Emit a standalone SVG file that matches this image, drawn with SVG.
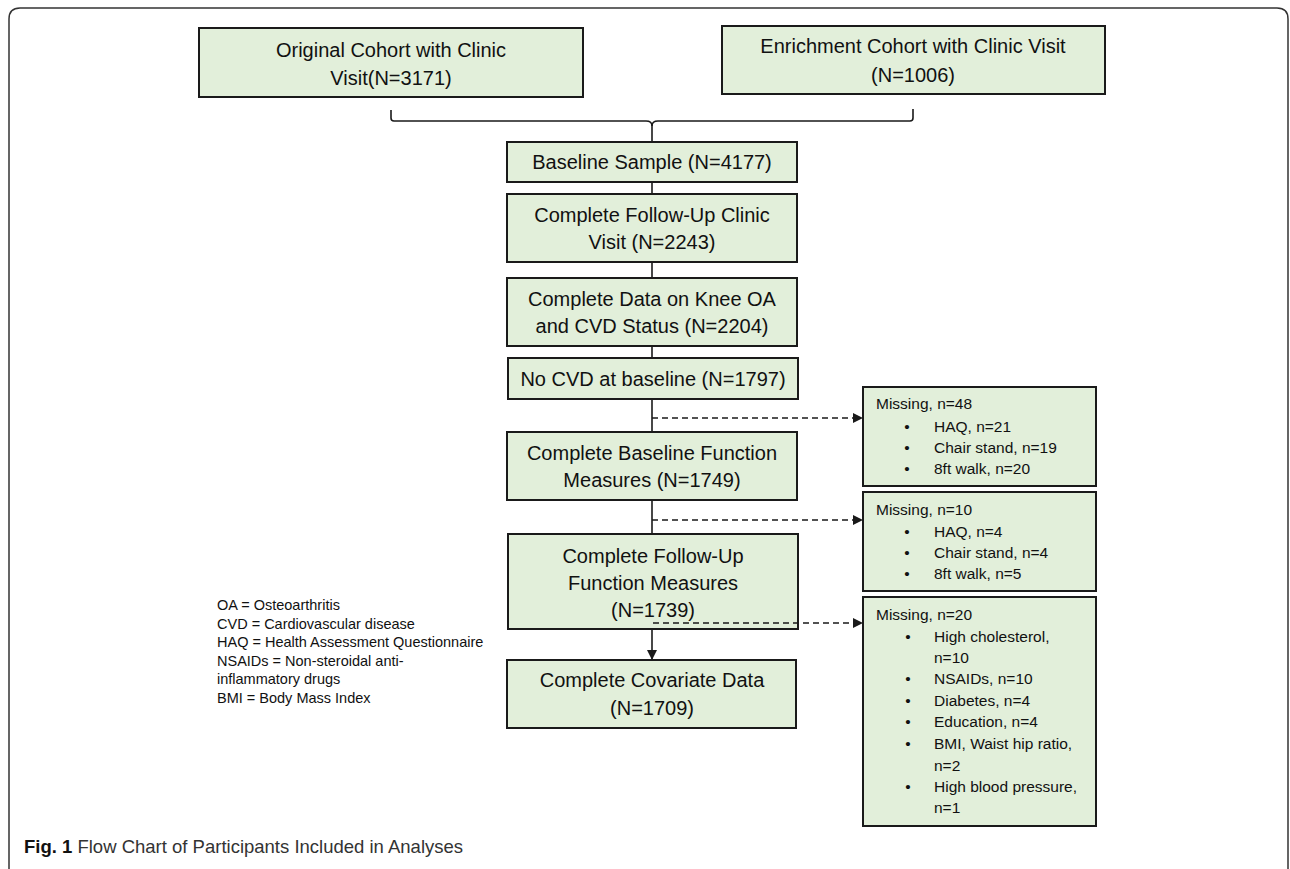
<svg xmlns="http://www.w3.org/2000/svg" width="1290" height="869" viewBox="0 0 1290 869">
<defs>
<style>
.box{fill:#e2efda;stroke:#1a1a1a;stroke-width:2}
.t{font-family:"Liberation Sans",Arial,sans-serif;font-size:20px;fill:#111;text-anchor:middle}
.s{font-family:"Liberation Sans",Arial,sans-serif;font-size:15.5px;fill:#111}
.lg{font-family:"Liberation Sans",Arial,sans-serif;font-size:14.5px;fill:#111}
.ln{fill:none;stroke:#1a1a1a;stroke-width:1.6}
.dl{fill:none;stroke:#1a1a1a;stroke-width:1.5;stroke-dasharray:6 4}
</style>
<marker id="ah" markerWidth="10" markerHeight="10" refX="9" refY="5" orient="auto" markerUnits="userSpaceOnUse">
<path d="M0,0 L10,5 L0,10 Z" fill="#1a1a1a"/>
</marker>
</defs>
<rect width="1290" height="869" fill="#fff"/>
<path d="M9,869 V19 Q9,8 20,8 H1277 Q1288,8 1288,19 V869" fill="none" stroke="#333" stroke-width="1.5"/>

<g id="n-original">
<rect class="box" x="199" y="28" width="384" height="69"/>
<text class="t" x="391" y="57">Original Cohort with Clinic</text>
<text class="t" x="391" y="85">Visit(N=3171)</text>
</g>
<g id="n-enrichment">
<rect class="box" x="722" y="26" width="383" height="68"/>
<text class="t" x="913" y="53">Enrichment Cohort with Clinic Visit</text>
<text class="t" x="913" y="82">(N=1006)</text>
</g>
<g id="n-baseline">
<rect class="box" x="507" y="142" width="290" height="40"/>
<text class="t" x="652" y="169">Baseline Sample (N=4177)</text>
</g>
<g id="n-followup-visit">
<rect class="box" x="507" y="194" width="290" height="68"/>
<text class="t" x="652" y="222">Complete Follow-Up Clinic</text>
<text class="t" x="652" y="249">Visit (N=2243)</text>
</g>
<g id="n-knee">
<rect class="box" x="507" y="278" width="290" height="68"/>
<text class="t" x="652" y="306">Complete Data on Knee OA</text>
<text class="t" x="652" y="333">and CVD Status (N=2204)</text>
</g>
<g id="n-nocvd">
<rect class="box" x="508" y="358" width="290" height="41"/>
<text class="t" x="653" y="386">No CVD at baseline (N=1797)</text>
</g>
<g id="n-baseline-function">
<rect class="box" x="507" y="432" width="290" height="68"/>
<text class="t" x="652" y="460">Complete Baseline Function</text>
<text class="t" x="652" y="487">Measures (N=1749)</text>
</g>
<g id="n-followup-function">
<rect class="box" x="508" y="534" width="290" height="95"/>
<text class="t" x="653" y="563">Complete Follow-Up</text>
<text class="t" x="653" y="590">Function Measures</text>
<text class="t" x="653" y="617">(N=1739)</text>
</g>
<g id="n-covariate">
<rect class="box" x="507" y="660" width="289" height="68"/>
<text class="t" x="652" y="687">Complete Covariate Data</text>
<text class="t" x="652" y="715">(N=1709)</text>
</g>

<g id="n-missing48">
<rect class="box" x="863" y="387" width="233" height="99"/>
<text class="s" x="876" y="409">Missing, n=48</text>
<text class="s" x="907" y="432" text-anchor="middle">•</text><text class="s" x="934" y="432">HAQ, n=21</text>
<text class="s" x="907" y="453" text-anchor="middle">•</text><text class="s" x="934" y="453">Chair stand, n=19</text>
<text class="s" x="907" y="474" text-anchor="middle">•</text><text class="s" x="934" y="474">8ft walk, n=20</text>
</g>
<g id="n-missing10">
<rect class="box" x="863" y="492" width="233" height="99"/>
<text class="s" x="876" y="515">Missing, n=10</text>
<text class="s" x="907" y="537" text-anchor="middle">•</text><text class="s" x="934" y="537">HAQ, n=4</text>
<text class="s" x="907" y="558" text-anchor="middle">•</text><text class="s" x="934" y="558">Chair stand, n=4</text>
<text class="s" x="907" y="579" text-anchor="middle">•</text><text class="s" x="934" y="579">8ft walk, n=5</text>
</g>
<g id="n-missing20">
<rect class="box" x="863" y="597" width="233" height="229"/>
<text class="s" x="876" y="620">Missing, n=20</text>
<text class="s" x="908" y="642" text-anchor="middle">•</text><text class="s" x="934" y="642">High cholesterol,</text>
<text class="s" x="934" y="663">n=10</text>
<text class="s" x="908" y="684" text-anchor="middle">•</text><text class="s" x="934" y="684">NSAIDs, n=10</text>
<text class="s" x="908" y="706" text-anchor="middle">•</text><text class="s" x="934" y="706">Diabetes, n=4</text>
<text class="s" x="908" y="727" text-anchor="middle">•</text><text class="s" x="934" y="727">Education, n=4</text>
<text class="s" x="908" y="749" text-anchor="middle">•</text><text class="s" x="934" y="749">BMI, Waist hip ratio,</text>
<text class="s" x="934" y="771">n=2</text>
<text class="s" x="908" y="792" text-anchor="middle">•</text><text class="s" x="934" y="792">High blood pressure,</text>
<text class="s" x="934" y="813">n=1</text>
</g>

<g id="connectors">
<path class="ln" d="M391,110 V118 Q391,121 394,121 H646 Q652,121 652,126 Q652,121 658,121 H910 Q913,121 913,118 V109"/>
<path class="ln" d="M652,124 V141"/>
<path class="ln" d="M652,183 V193"/>
<path class="ln" d="M652,263 V277"/>
<path class="ln" d="M652,347 V357"/>
<path class="ln" d="M652,400 V431"/>
<path class="ln" d="M652,501 V533"/>
<path class="ln" d="M652,630 V659" marker-end="url(#ah)"/>
<path class="dl" d="M652,418 H862" marker-end="url(#ah)"/>
<path class="dl" d="M652,520 H862" marker-end="url(#ah)"/>
<path class="dl" d="M653,623 H862" marker-end="url(#ah)"/>
</g>

<g id="legend">
<text class="lg" x="217" y="610">OA = Osteoarthritis</text>
<text class="lg" x="217" y="629">CVD = Cardiovascular disease</text>
<text class="lg" x="217" y="647">HAQ = Health Assessment Questionnaire</text>
<text class="lg" x="217" y="666">NSAIDs = Non-steroidal anti-</text>
<text class="lg" x="217" y="684">inflammatory drugs</text>
<text class="lg" x="217" y="703">BMI = Body Mass Index</text>
</g>

<g id="caption">
<text x="24" y="853" font-family="'Liberation Sans',Arial,sans-serif" font-size="18.5" fill="#333"><tspan font-weight="bold" fill="#111">Fig. 1</tspan> Flow Chart of Participants Included in Analyses</text>
</g>
</svg>
